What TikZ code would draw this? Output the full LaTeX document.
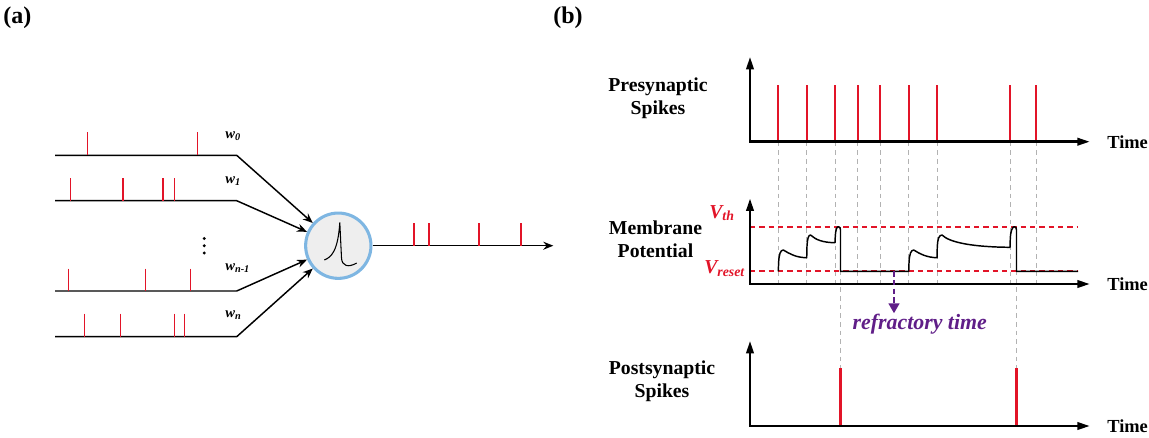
\documentclass[tikz,border=0pt]{standalone}
\usepackage{fontspec}
\setmainfont{Liberation Serif}
\usetikzlibrary{positioning,arrows.meta}

\definecolor{spikered}{RGB}{226,20,40}
\definecolor{refpurple}{RGB}{96,30,136}
\definecolor{somagray}{RGB}{238,238,238}
\definecolor{somablue}{RGB}{126,182,226}

\tikzset{
  spike/.style={spikered, line width=1pt},
  bigspike/.style={spikered, line width=1.6pt},
  axes/.style={line width=2pt, {Triangle[length=9.5pt,width=5.5pt]}-{Triangle[length=9.5pt,width=5.5pt]}},
  guide/.style={gray!60, line width=0.7pt, dash pattern=on 3.5pt off 3pt},
  thresh/.style={spikered, line width=1.5pt, dash pattern=on 4pt off 3pt},
  trace/.style={line width=1.1pt, line join=round},
  heading/.style={font=\fontsize{14.8}{17}\selectfont\bfseries, align=center, inner sep=0pt},
  timelbl/.style={font=\fontsize{13.8}{16}\selectfont\bfseries, inner sep=0pt},
  panel/.style={font=\fontsize{18}{20}\selectfont\bfseries, inner sep=0pt, anchor=west},
  weight/.style={font=\fontsize{11}{13}\selectfont\bfseries\itshape, inner sep=0pt, anchor=base west},
  vlabel/.style={font=\fontsize{14.8}{17}\selectfont\bfseries\itshape, text=spikered, inner sep=0pt, anchor=base west},
  input/.style={line width=1.1pt},
  soma/.style={circle, draw=somablue, fill=somagray, line width=2.3pt, minimum size=49pt, inner sep=0pt},
}

\begin{document}
\begin{tikzpicture}[x=0.75pt, y=-0.75pt, >={Stealth[length=7.5pt,width=6pt]}]
  \useasboundingbox (0,0) rectangle (1149,437);

  \node[panel] (lbla) at (3,18) {(a)};%
  \node[panel] (lblb) at (553,18) {(b)};%

  % neuron and its inputs
  \node[soma] (neuron) at (338.3,245.7) {};%
  \draw[line width=0.8pt] (324.3,260) .. controls (332,257) and (338,250) .. (339.8,222.5)
    -- (341.5,258) .. controls (342,266) and (348,268) .. (356.7,263);

  \coordinate (in0) at (55,155.3);   \coordinate (bend0) at (236.7,155.3);
  \coordinate (in1) at (55,200.7);   \coordinate (bend1) at (236.7,200.7);
  \coordinate (inm) at (55,291);     \coordinate (bendm) at (236.7,291);
  \coordinate (inn) at (55,336.7);   \coordinate (bendn) at (236.7,336.7);
  \draw[input,->] (in0) -- (bend0) -- (neuron);
  \draw[input,->] (in1) -- (bend1) -- (neuron);
  \draw[input,->] (inm) -- (bendm) -- (neuron);
  \draw[input,->] (inn) -- (bendn) -- (neuron);

  \foreach \x in {87.7,197.7} \draw[spike] (\x,132.3) -- (\x,155.3);
  \foreach \x in {70.7,123,163,174.7} \draw[spike] (\x,178) -- (\x,200.7);
  \foreach \x in {68.3,145.7,190.7} \draw[spike] (\x,268.7) -- (\x,291);
  \foreach \x in {84.3,120.7,174.7,184.3} \draw[spike] (\x,313.7) -- (\x,336.7);

  \node[weight] (w0) at (225,138.5) {w\textsubscript{0}};%
  \node[weight] (w1) at (225,183.5) {w\textsubscript{1}};%
  \node[weight] (wm) at (225,270) {w\textsubscript{n-1}};%
  \node[weight] (wn) at (225,317) {w\textsubscript{n}};%
  \foreach \y in {238.5,245.7,253} \fill (204.3,\y) circle (1.6);

  \coordinate (out) at (553.3,245.7);
  \draw[input,->] (neuron) -- (out);
  \foreach \x in {414,429,479,521} \draw[spike] (\x,223.3) -- (\x,245.7);

  % guides between the plots
  \foreach \x in {778.3,806.7,835,857.7,880.3,908.7,937,1010,1036.3}
    \draw[guide] (\x,141.7) -- (\x,284);
  \draw[guide] (840.5,226.7) -- (840.5,368.3);
  \draw[guide] (1016.5,226.7) -- (1016.5,368.3);

  % presynaptic
  \coordinate (o1) at (750,141.7); \coordinate (y1) at (750,56.7); \coordinate (x1) at (1090,141.7);
  \foreach \x in {778.3,806.7,835,857.7,880.3,908.7,937,1010,1036.3}
    \draw[bigspike] (\x,85) -- (\x,141.7);
  \draw[axes] (y1) -- (o1) -- (x1);
  \node[heading] (pre) at (658,98) {Presynaptic\\Spikes};%
  \node[timelbl, right=12.8pt of x1] (t1) {Time};%

  % membrane potential
  \coordinate (o2) at (750,284); \coordinate (y2) at (750,198.3); \coordinate (x2) at (1090,284);
  \draw[thresh] (750,226.7) -- (1078.3,226.7);
  \draw[thresh] (750,271.3) -- (1078.3,271.3);
  \draw[trace] (778.3,271.3) -- (778.6,263) .. controls (779,254) and (780.5,250) .. (783.3,250)
    .. controls (790,254) and (796,257.5) .. (806.7,257.7)
    -- (807,246) .. controls (807.4,239) and (808.3,235) .. (810.5,235)
    .. controls (816,240) and (823,242.5) .. (835,242.7)
    -- (835.3,236) .. controls (835.8,229) and (836.8,226.7) .. (838.5,226.7)
    .. controls (839.8,226.7) and (840.5,228) .. (840.5,230)
    -- (840.5,271.3) -- (908.7,271.3)
    -- (909,263) .. controls (909.4,254) and (910.9,250) .. (913.7,250)
    .. controls (920,254) and (927,257.5) .. (937,257.7)
    -- (937.3,246) .. controls (937.7,239) and (939,235) .. (942,235)
    .. controls (950,243) and (975,247) .. (1010,247.3)
    -- (1010.3,238) .. controls (1010.8,230) and (1012.5,226.7) .. (1014.5,226.7)
    .. controls (1015.8,226.7) and (1016.5,228) .. (1016.5,230)
    -- (1016.5,271.3) -- (1078,271.3);
  \draw[axes] (y2) -- (o2) -- (x2);
  \node[heading] (mem) at (655.5,239) {Membrane\\Potential};%
  \node[timelbl, right=12.8pt of x2] (t2) {Time};%
  \node[vlabel] (vth) at (709,218) {V\textsubscript{th}};%
  \node[vlabel] (vreset) at (704,273.5) {V\textsubscript{reset}};%

  \coordinate (rs) at (894,271.3); \coordinate (rt) at (894,313.3);
  \draw[refpurple, line width=2.2pt, dash pattern=on 4pt off 2.5pt,
    -{Triangle[length=7.5pt,width=8pt]}] (rs) -- (rt);
  \node[font=\fontsize{16.4}{18}\selectfont\bfseries\itshape, text=refpurple, inner sep=0pt]
    (refr) at (919.7,324) {refractory time};%

  % postsynaptic
  \coordinate (o3) at (750,426); \coordinate (y3) at (750,340.7); \coordinate (x3) at (1090,426);
  \foreach \x in {840.5,1016.5} \draw[bigspike] (\x,368.3) -- (\x,426);
  \draw[axes] (y3) -- (o3) -- (x3);
  \node[heading] (post) at (662,381) {Postsynaptic\\Spikes};%
  \node[timelbl, right=12.8pt of x3] (t3) {Time};%
\end{tikzpicture}
\end{document}
